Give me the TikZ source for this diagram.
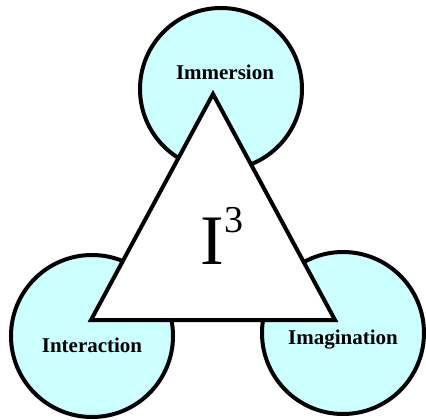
\documentclass[tikz,border=0pt]{standalone}
\usepackage{fontspec}
\setmainfont{Liberation Serif}
\usetikzlibrary{positioning}
\definecolor{ringcyan}{RGB}{204,255,255}

\begin{document}
\begin{tikzpicture}[x=1pt,y=-1pt,
        ring/.style={circle,draw=black,line width=4pt,fill=ringcyan,
                     minimum size=162pt,inner sep=0pt},
        tag/.style={font=\fontsize{21}{23}\selectfont\bfseries}]
            \useasboundingbox (0,0) rectangle (426,420);
            \node[ring] (cimm) at (221,89) {};
            \node[ring] (cint) at (92,336) {};
            \node[ring] (cima) at (343,333) {};
            \coordinate (top) at (213,94);
            \coordinate (left) at (91,320);
            \coordinate (right) at (335,320);
            \draw[line width=4pt,fill=white] (top) -- (left) -- (right) -- cycle;
            \node[tag] (limm) at (225,72) {Immersion};
            \node[tag] (lint) at (92,345) {Interaction};
            \node[tag] (lima) at (343,340) {Imagination};
            \node[font=\fontsize{71}{80}\selectfont] (ithree) at (222,236)
                {I\raisebox{0.45em}{\fontsize{38}{40}\selectfont 3}};
        \end{tikzpicture}
\end{document}
